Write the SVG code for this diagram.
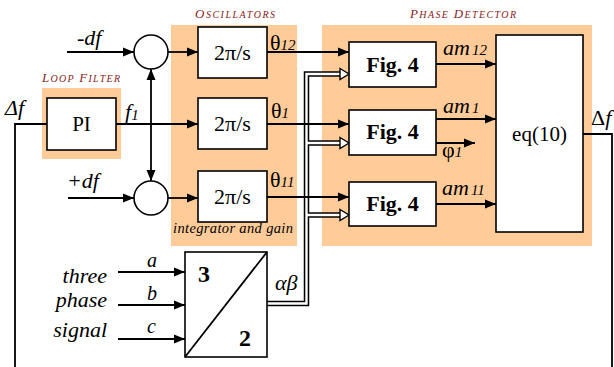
<svg xmlns="http://www.w3.org/2000/svg" width="614" height="367" viewBox="0 0 614 367" font-family="'Liberation Serif', 'Times New Roman', 'DejaVu Serif', serif">
<style>
text{font-family:'Liberation Serif','Times New Roman','DejaVu Serif',serif;fill:#000}
.it{font-style:italic}
.bd{font-weight:bold}
.hdr{font-style:italic;fill:#8b2323}
.bg{fill:#ffcc99}
.box{fill:#fff;stroke:#000;stroke-width:1.6}
.ln{fill:none;stroke:#000;stroke-width:1.8}
.arr{fill:none;stroke:#000;stroke-width:1.8;marker-end:url(#ah)}
.busB{fill:none;stroke:#000;stroke-width:5.5;stroke-linejoin:miter}
.busW{fill:none;stroke:#fff;stroke-width:2.4;stroke-linejoin:miter}
.open{fill:#fff;stroke:#000;stroke-width:1.4}
</style>
<defs>
<marker id="ah" markerUnits="userSpaceOnUse" markerWidth="12" markerHeight="10" refX="11" refY="5" orient="auto">
<path d="M0,0.5 L11,5 L0,9.5 Z" fill="#000"/>
</marker>
</defs>

<!-- backgrounds -->
<g id="bg-loop"><rect class="bg" x="42" y="88" width="79" height="71"/>
<text class="hdr" x="42" y="82" font-size="13" textLength="78" lengthAdjust="spacing">L<tspan font-size="10">OOP</tspan> F<tspan font-size="10">ILTER</tspan></text></g>
<g id="bg-osc"><rect class="bg" x="171" y="25" width="126" height="221"/>
<text class="hdr" x="195" y="18" font-size="13" textLength="80" lengthAdjust="spacing">O<tspan font-size="10">SCILLATORS</tspan></text>
<text class="it" x="233" y="233" font-size="14.5" text-anchor="middle" fill="#222" textLength="120" lengthAdjust="spacing">integrator and gain</text></g>
<g id="bg-pd"><rect class="bg" x="322" y="25" width="270" height="221"/>
<text class="hdr" x="410" y="18" font-size="13" textLength="106" lengthAdjust="spacing">P<tspan font-size="10">HASE</tspan> D<tspan font-size="10">ETECTOR</tspan></text></g>

<!-- connectors -->
<g id="connectors">
<path class="busB" d="M267,303.5 H306.5 V74 H340 M306.5,143 H340 M306.5,215 H340"/>
<path class="busW" d="M267,303.5 H306.5 V74 H341 M306.5,143 H341 M306.5,215 H341"/>
<polygon class="open" points="340,68.5 349,74 340,79.5"/>
<polygon class="open" points="340,137.5 349,143 340,148.5"/>
<polygon class="open" points="340,209.5 349,215 340,220.5"/>
<path class="arr" d="M67,52 H134"/>
<path class="arr" d="M68,198 H134"/>
<path class="arr" d="M168,52 H198"/>
<path class="arr" d="M168,198 H198"/>
<path class="arr" d="M116,124 H198"/>
<path class="arr" d="M151,124 V69"/>
<path class="arr" d="M151,124 V181"/>
<path class="ln" d="M15,367 V124 H47"/>
<path class="arr" d="M267,52 H349"/>
<path class="arr" d="M267,124 H349"/>
<path class="arr" d="M267,197 H349"/>
<path class="arr" d="M436,64 H496"/>
<path class="arr" d="M436,119 H496"/>
<path class="arr" d="M436,143 H475"/>
<path class="arr" d="M436,204 H496"/>
<path class="ln" d="M583,134 H612 V367"/>
<path class="arr" d="M118,272 H185"/>
<path class="arr" d="M118,305 H185"/>
<path class="arr" d="M118,339 H185"/>
</g>

<!-- nodes -->
<g id="sum-top"><circle class="box" cx="151" cy="52" r="17"/></g>
<g id="sum-bot"><circle class="box" cx="151" cy="198" r="17"/></g>
<g id="pi"><rect class="box" x="47" y="98" width="69" height="52"/><text x="81.5" y="131" font-size="21" text-anchor="middle">PI</text></g>
<g id="osc1"><rect class="box" x="198" y="27" width="69" height="51"/><text x="232.5" y="60" font-size="22" text-anchor="middle">2π/s</text></g>
<g id="osc2"><rect class="box" x="198" y="98" width="69" height="51"/><text x="232.5" y="131" font-size="22" text-anchor="middle">2π/s</text></g>
<g id="osc3"><rect class="box" x="198" y="171" width="69" height="51"/><text x="232.5" y="204" font-size="22" text-anchor="middle">2π/s</text></g>
<g id="fig4a"><rect class="box" x="349" y="42" width="87" height="45"/><text class="bd" x="392.5" y="72" font-size="22" text-anchor="middle">Fig. 4</text></g>
<g id="fig4b"><rect class="box" x="349" y="110" width="87" height="45"/><text class="bd" x="392.5" y="139" font-size="22" text-anchor="middle">Fig. 4</text></g>
<g id="fig4c"><rect class="box" x="349" y="182" width="87" height="44"/><text class="bd" x="392.5" y="211" font-size="22" text-anchor="middle">Fig. 4</text></g>
<g id="eq10"><rect class="box" x="496" y="35" width="87" height="197"/><text x="539.5" y="141" font-size="21" text-anchor="middle">eq(10)</text></g>
<g id="conv32"><rect class="box" x="185" y="252" width="82" height="105"/><path class="ln" d="M185,357 L267,252" stroke-width="1.3"/>
<text class="bd" x="198" y="282" font-size="24">3</text><text class="bd" x="239" y="346" font-size="24">2</text></g>

<!-- labels -->
<g id="labels">
<text class="it" x="77" y="45" font-size="22">-df</text>
<text class="it" x="67" y="188" font-size="22">+df</text>
<text class="it" x="5" y="115" font-size="22">Δf</text>
<text class="it" x="125" y="119" font-size="22">f<tspan font-size="15" dy="1">1</tspan></text>
<text x="270" y="50" font-size="22">θ<tspan class="it" font-size="15">12</tspan></text>
<text x="271" y="118" font-size="22">θ<tspan class="it" font-size="15">1</tspan></text>
<text x="270" y="187" font-size="22">θ<tspan class="it" font-size="15">11</tspan></text>
<text class="it" x="443" y="55" font-size="22">am<tspan font-size="15" dx="2">12</tspan></text>
<text class="it" x="443" y="113" font-size="22">am<tspan font-size="15" dx="2">1</tspan></text>
<text class="it" x="442" y="195" font-size="22">am<tspan font-size="15" dx="2">11</tspan></text>
<text x="442" y="157" font-size="22">φ<tspan class="it" font-size="15">1</tspan></text>
<text x="591" y="125" font-size="22">Δ<tspan class="it">f</tspan></text>
<text class="it" x="147" y="267" font-size="20">a</text>
<text class="it" x="147" y="300" font-size="20">b</text>
<text class="it" x="147" y="333" font-size="20">c</text>
<text class="it" x="107" y="283" font-size="22" text-anchor="end">three</text>
<text class="it" x="107" y="307" font-size="22" text-anchor="end">phase</text>
<text class="it" x="107" y="337" font-size="22" text-anchor="end">signal</text>
<text class="it" x="275" y="290" font-size="22">αβ</text>
</g>
</svg>
